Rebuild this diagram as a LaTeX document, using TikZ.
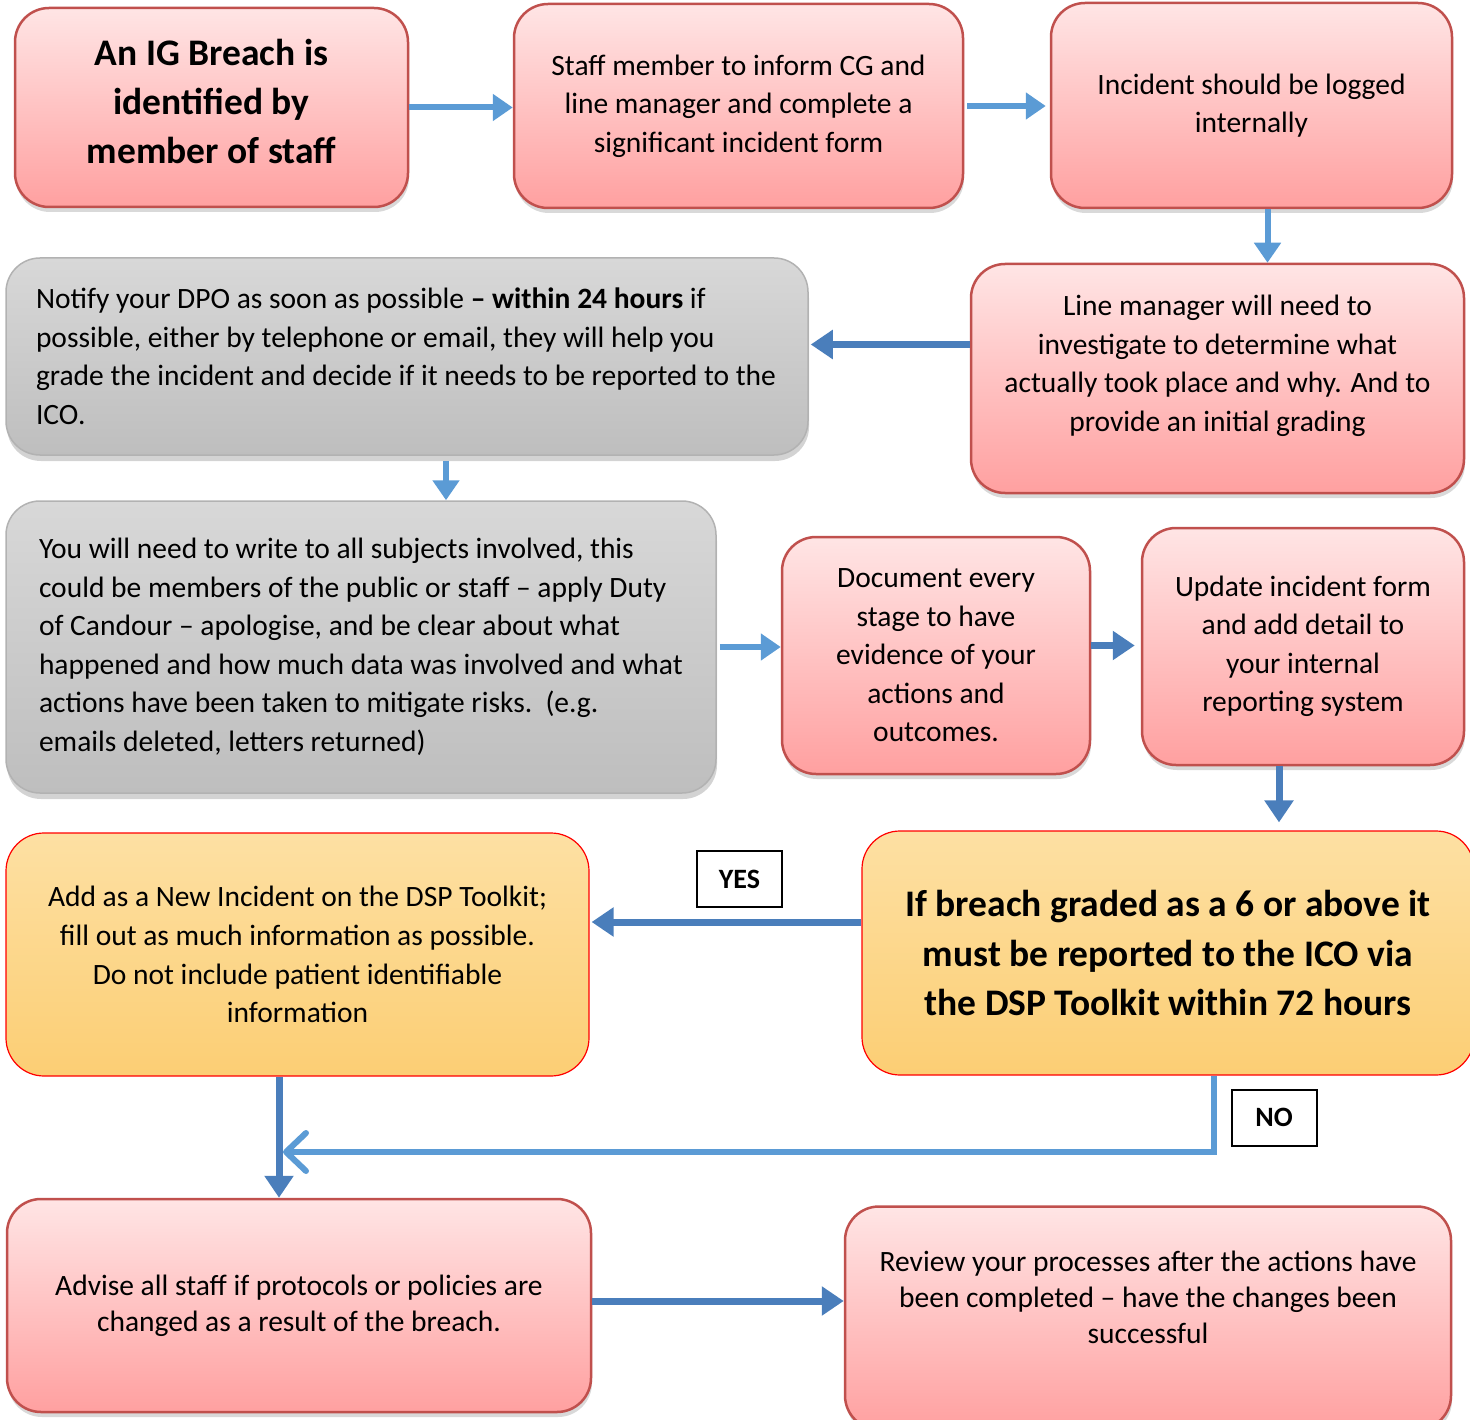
\documentclass[tikz,border=0pt]{standalone}
\usepackage{fontspec}
\setmainfont{Carlito}
\usetikzlibrary{arrows.meta,shadows}
\definecolor{pinkTop}{RGB}{255,229,229}
\definecolor{pinkBot}{RGB}{255,160,160}
\definecolor{pinkLine}{RGB}{192,80,77}
\definecolor{greyTop}{RGB}{216,216,216}
\definecolor{greyBot}{RGB}{190,190,190}
\definecolor{greyLine}{RGB}{178,178,178}
\definecolor{goldTop}{RGB}{253,224,163}
\definecolor{goldBot}{RGB}{252,206,116}
\definecolor{arrowLight}{RGB}{91,155,213}
\definecolor{arrowDark}{RGB}{74,126,187}
\begin{document}
\begin{tikzpicture}[x=1pt,y=-1pt,
    pinkBox/.style={draw=pinkLine,line width=2.5pt,rounded corners=34pt,top color=pinkTop,bottom color=pinkBot,
        drop shadow={shadow xshift=1pt,shadow yshift=-5pt,opacity=0.3},inner sep=0pt,align=flush center,
        font=\fontsize{29.5}{38.5}\selectfont},
    greyBox/.style={draw=greyLine,line width=1.5pt,rounded corners=34pt,top color=greyTop,bottom color=greyBot,
        drop shadow={shadow xshift=1pt,shadow yshift=-6pt,opacity=0.35},inner ysep=0pt,inner xsep=30pt,align=flush left,
        font=\fontsize{29.5}{38.5}\selectfont},
    goldBox/.style={draw=red,line width=1.2pt,rounded corners=38pt,top color=goldTop,bottom color=goldBot,
        inner sep=0pt,align=flush center,font=\fontsize{29.5}{38.8}\selectfont},
    tagBox/.style={draw=black,line width=2pt,fill=white,minimum width=85pt,minimum height=56pt,inner sep=0pt,
        font=\fontsize{28}{30}\selectfont\bfseries},
    flowArrowL/.style={-{Triangle[length=20pt,width=26pt]},line width=6pt,color=arrowLight},
    flowArrowD/.style={-{Triangle[length=22pt,width=28pt]},line width=7pt,color=arrowDark},
]
\useasboundingbox (0,0) rectangle (1470,1420);
\node[pinkBox,minimum width=393pt,minimum height=199pt,text depth=12pt,font=\fontsize{37.5}{49}\selectfont\bfseries] (breach) at (211.5,107.5)
    {An IG Breach is\\identified by\\member of staff};
\node[pinkBox,minimum width=449pt,minimum height=204pt] (inform) at (738.5,106)
    {Staff member to inform CG and\\line manager and complete a\\significant incident form};
\node[pinkBox,minimum width=401pt,minimum height=205pt] (logged) at (1251.5,105.5)
    {Incident should be logged\\internally};
\node[pinkBox,minimum width=493pt,minimum height=229pt,text depth=30pt] (investigate) at (1217.5,378.5)
    {Line manager will need to\\investigate to determine what\\actually took place and why. And to\\provide an initial grading};
\node[greyBox,text width=742pt,minimum height=197pt] (notify) at (407,356.5)
    {Notify your DPO as soon as possible \textbf{– within 24 hours} if\\possible, either by telephone or email, they will help you\\grade the incident and decide if it needs to be reported to the\\ICO.};
\node[greyBox,inner xsep=33pt,text width=644pt,minimum height=292pt] (subjects) at (361,647)
    {You will need to write to all subjects involved, this\\could be members of the public or staff – apply Duty\\of Candour – apologise, and be clear about what\\happened and how much data was involved and what\\actions have been taken to mitigate risks.~~(e.g.\\emails deleted, letters returned)};
\node[pinkBox,minimum width=308pt,minimum height=237pt] (document) at (936,655.5)
    {Document every\\stage to have\\evidence of your\\actions and\\outcomes.};
\node[pinkBox,minimum width=322pt,minimum height=237pt] (update) at (1303,646.5)
    {Update incident form\\and add detail to\\your internal\\reporting system};
\node[goldBox,minimum width=583pt,minimum height=243pt] (toolkit) at (297.5,954.5)
    {Add as a New Incident on the DSP Toolkit;\\fill out as much information as possible.\\Do not include patient identifiable\\information};
\node[goldBox,minimum width=612pt,minimum height=244pt,font=\fontsize{37.5}{49.5}\selectfont\bfseries] (grade) at (1168,953)
    {If breach graded as a 6 or above it\\must be reported to the ICO via\\the DSP Toolkit within 72 hours};
\node[pinkBox,minimum width=584pt,minimum height=213pt,font=\fontsize{29.5}{36}\selectfont] (advise) at (299,1305.5)
    {Advise all staff if protocols or policies are\\changed as a result of the breach.};
\node[pinkBox,minimum width=606pt,minimum height=223pt,text depth=42pt,font=\fontsize{29.5}{36}\selectfont] (review) at (1148,1318)
    {Review your processes after the actions have\\been completed – have the changes been\\successful};
\node[tagBox] (yes) at (739.5,879) {YES};
\node[tagBox] (no) at (1274,1117.5) {NO};
\draw[flowArrowL] (breach.east) -- (breach.east -| inform.west);
\draw[flowArrowL,shorten <=3pt,shorten >=4pt] (inform.east) -- (inform.east -| logged.west);
\draw[flowArrowL] ([xshift=16pt]logged.south) -- ([xshift=16pt]logged.south |- investigate.north);
\draw[flowArrowD,shorten >=2pt] ([yshift=34pt]investigate.west) -- ([yshift=34pt]investigate.west -| notify.east);
\draw[flowArrowL,shorten <=5pt] ([xshift=39pt]notify.south) -- ([xshift=39pt]notify.south |- subjects.north);
\draw[flowArrowL,shorten <=3pt] (subjects.east) -- (subjects.east -| document.west);
\draw[flowArrowD,shorten >=6pt] ([yshift=10pt]document.east) -- ([yshift=10pt]document.east -| update.west);
\draw[flowArrowD,shorten >=8pt] ([xshift=-24pt]update.south) -- ([xshift=-24pt]update.south |- grade.north);
\draw[flowArrowD,shorten >=2pt] ([yshift=31pt]grade.west) -- ([yshift=31pt]grade.west -| toolkit.east);
\draw[flowArrowD] ([xshift=-18.5pt]toolkit.south) -- ([xshift=-18.5pt]toolkit.south |- advise.north);
\draw[arrowLight,line width=6pt,-{Straight Barb[length=20pt,width=38pt,round]}]
    ([xshift=46pt]grade.south) |- ([xshift=-14.5pt]toolkit.south |- 0,1152);
\draw[flowArrowD] ([yshift=4.5pt]advise.east) -- ([yshift=4.5pt]advise.east -| review.west);
\end{tikzpicture}
\end{document}
